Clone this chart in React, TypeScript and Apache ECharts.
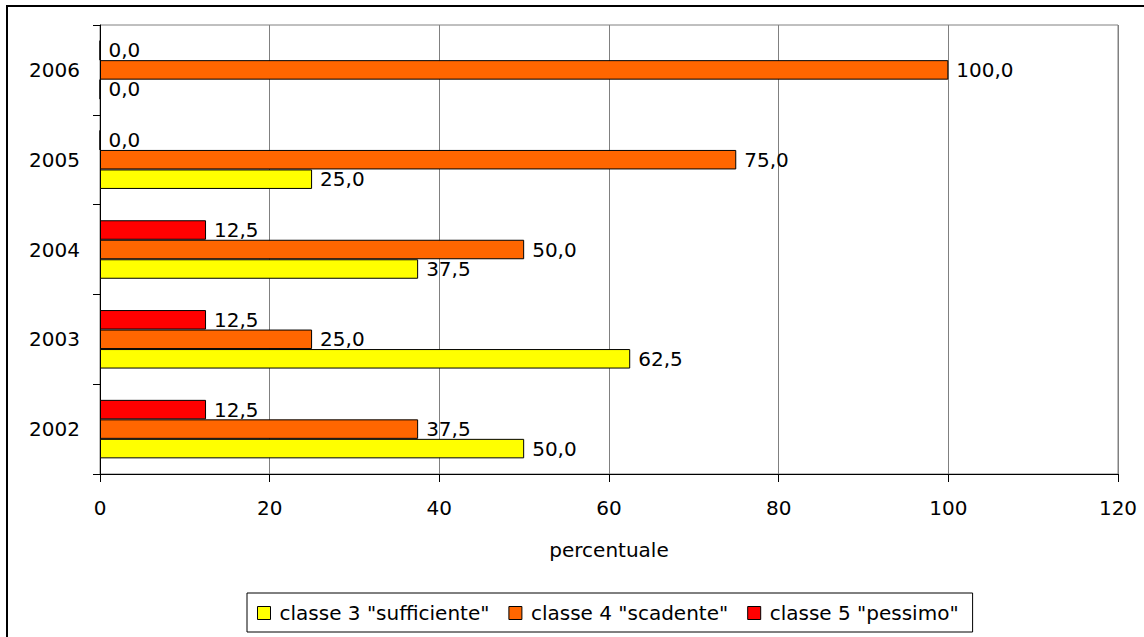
import React, { useEffect, useRef } from "react";
import * as echarts from "echarts";

const years = ["2002", "2003", "2004", "2005", "2006"];
const classe3 = [50, 62.5, 37.5, 25, 0];
const classe4 = [37.5, 25, 50, 75, 100];
const classe5 = [12.5, 12.5, 12.5, 0, 0];
const xTicks = [0, 20, 40, 60, 80, 100, 120];

const names = ['classe 3 "sufficiente"', 'classe 4 "scadente"', 'classe 5 "pessimo"'];
const colors = ["#FFFF00", "#FF6600", "#FF0000"];

const FONT = "DejaVu Sans";

export default function App() {
  const ref = useRef<HTMLDivElement>(null);
  useEffect(() => {
    if (!ref.current) return;
    const chart = echarts.init(ref.current, undefined, { renderer: "svg" });
    const fmt = (p: any) => Number(p.value).toFixed(1).replace(".", ",");
    const mk = (name: string, data: number[], color: string) => ({
      name,
      type: "bar",
      data,
      barWidth: 19.5,
      barGap: "0%",
      itemStyle: { color, borderColor: "#000", borderWidth: 1 },
      label: {
        show: true,
        position: "right",
        distance: 8,
        formatter: fmt,
        color: "#000",
        fontSize: 20,
        fontFamily: FONT,
      },
    });
    chart.setOption({
      animation: false,
      backgroundColor: "#fff",
      textStyle: { fontFamily: FONT },
      graphic: [
        {
          type: "rect",
          shape: { x: 7, y: 6, width: 1200, height: 700 },
          style: { fill: "none", stroke: "#000", lineWidth: 2 },
          silent: true,
        },
      ],
      grid: {
        left: 100,
        right: 26,
        top: 25,
        bottom: 163,
        show: true,
        borderColor: "#808080",
        borderWidth: 1,
        backgroundColor: "transparent",
      },
      legend: {
        data: names,
        left: 247,
        top: 593,
        padding: [10, 14, 9, 10],
        borderColor: "#000",
        borderWidth: 1,
        itemWidth: 13,
        itemHeight: 13,
        itemGap: 19,
        icon: "rect",
        itemStyle: { borderColor: "#000", borderWidth: 1 },
        textStyle: { fontSize: 20, fontFamily: FONT, color: "#000", padding: [0, 0, 0, 4] },
      },
      xAxis: {
        type: "value",
        min: xTicks[0],
        max: xTicks[xTicks.length - 1],
        interval: 20,
        name: "percentuale",
        nameLocation: "middle",
        nameGap: 66,
        nameTextStyle: { fontSize: 20, fontFamily: FONT, color: "#000" },
        axisLine: { show: true, lineStyle: { color: "#000", width: 1 } },
        axisTick: { show: true, length: 8, lineStyle: { color: "#000" } },
        axisLabel: { fontSize: 20, fontFamily: FONT, color: "#000", margin: 24 },
        splitLine: { show: true, lineStyle: { color: "#808080", width: 1 } },
      },
      yAxis: {
        type: "category",
        data: years,
        axisLine: { show: true, lineStyle: { color: "#000", width: 1 } },
        axisTick: { show: true, length: 7, lineStyle: { color: "#000" } },
        axisLabel: { fontSize: 20, fontFamily: FONT, color: "#000", margin: 20 },
        splitLine: { show: false },
      },
      series: [
        mk(names[2], classe5, colors[2]),
        mk(names[1], classe4, colors[1]),
        mk(names[0], classe3, colors[0]),
      ],
    });
    return () => chart.dispose();
  }, []);
  return (
    <div
      ref={ref}
      style={{ position: "absolute", left: 0, top: 0, width: 1144, height: 637 }}
    />
  );
}
